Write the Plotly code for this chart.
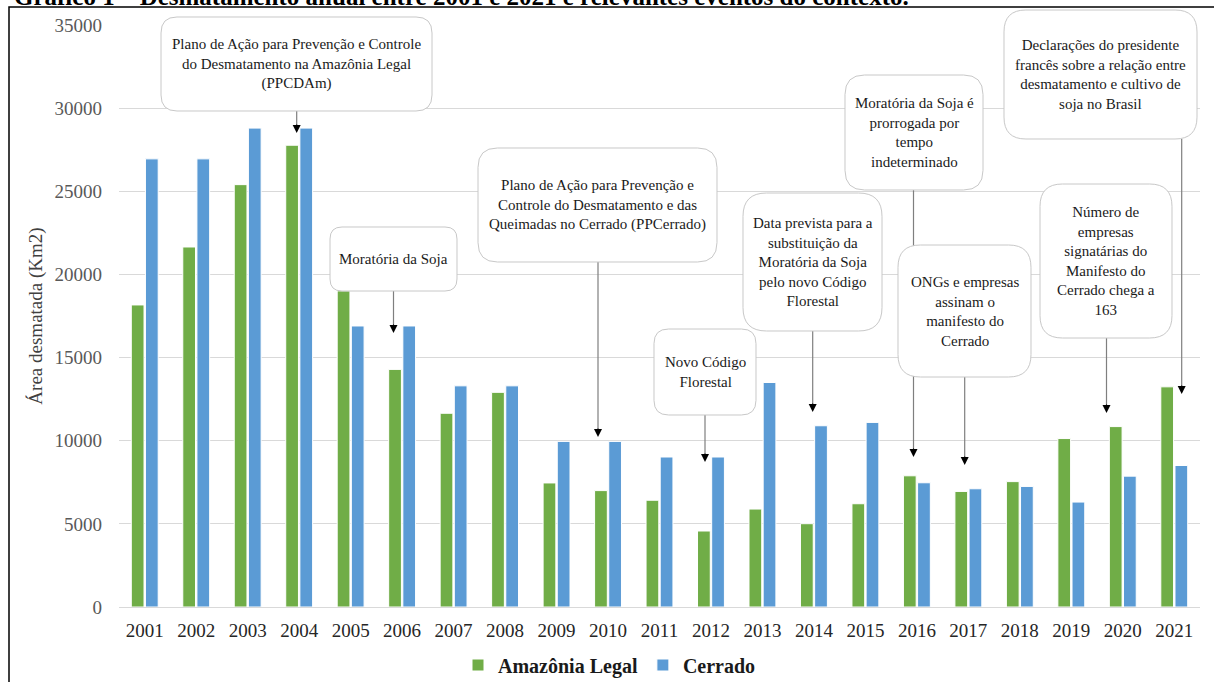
import plotly.graph_objects as go

# ---------------- data ----------------
years = list(range(2001, 2022))
year_labels = [str(y) for y in years]
amazonia = [18165, 21650, 25400, 27770, 19010, 14290, 11650, 12910, 7460, 7000,
            6420, 4570, 5890, 5010, 6210, 7890, 6950, 7540, 10130, 10850, 13240]
cerrado = [26950, 26950, 28800, 28800, 16900, 16900, 13300, 13300, 9960, 9960,
           9020, 9020, 13500, 10900, 11100, 7470, 7110, 7250, 6310, 7870, 8510]
series_names = ["Amazônia Legal", "Cerrado"]
y_ticks = [0, 5000, 10000, 15000, 20000, 25000, 30000, 35000]

event_texts = [
    "Plano de Ação para Prevenção e Controle<br>do Desmatamento na Amazônia Legal<br>(PPCDAm)",
    "Moratória da Soja",
    "Plano de Ação para Prevenção e<br>Controle do Desmatamento e das<br>Queimadas no Cerrado (PPCerrado)",
    "Novo Código<br>Florestal",
    "Data prevista para a<br>substituição da<br>Moratória da Soja<br>pelo novo Código<br>Florestal",
    "Moratória da Soja é<br>prorrogada por<br>tempo<br>indeterminado",
    "ONGs e empresas<br>assinam o<br>manifesto do<br>Cerrado",
    "Declarações do presidente<br>francês sobre a relação entre<br>desmatamento e cultivo de<br>soja no Brasil",
    "Número de<br>empresas<br>signatárias do<br>Manifesto do<br>Cerrado chega a<br>163",
]
title_text = "Gráfico 1 – Desmatamento anual entre 2001 e 2021 e relevantes eventos do contexto."

# ---------------- layout geometry (pixels in the 1214x682 page) ----------------
W, H = 1214, 682
L, R, T, B = 119, 1200, 25, 607

def px(x):
    return (x - L) / (R - L)

def py(y):
    return (B - y) / (B - T)

# callout boxes: (x0, y0, x1, y1) and arrow: (x, y_start, y_tip)
boxes = [
    (161, 17, 432, 111),
    (330, 227, 457, 291),
    (478, 148, 717, 262),
    (654, 329, 756, 415),
    (743, 193, 882, 331),
    (845, 75, 983, 190),
    (898, 245, 1031, 377),
    (1004, 10, 1197, 139),
    (1040, 184, 1172, 338),
]
arrows = [
    (296.7, 111, 133),
    (393.5, 291, 333),
    (598, 262, 437),
    (705, 415, 462),
    (812.7, 331, 412),
    (913.5, 190, 457),
    (964.7, 377, 465),
    (1181.7, 139, 394),
    (1106.5, 338, 413),
]

SERIF = "Liberation Serif, Times New Roman, serif"
GREEN = "#70AD47"
BLUE = "#5B9BD5"

def rrect_path(x0, y0, x1, y1, r):
    def p(x, y):
        return f"{px(x):.6f},{py(y):.6f}"
    return (f"M{p(x0 + r, y0)} L{p(x1 - r, y0)} Q{p(x1, y0)} {p(x1, y0 + r)} "
            f"L{p(x1, y1 - r)} Q{p(x1, y1)} {p(x1 - r, y1)} "
            f"L{p(x0 + r, y1)} Q{p(x0, y1)} {p(x0, y1 - r)} "
            f"L{p(x0, y0 + r)} Q{p(x0, y0)} {p(x0 + r, y0)} Z")

fig = go.Figure()
fig.add_trace(go.Bar(x=years, y=amazonia, name=f"<b>{series_names[0]}</b>",
                     marker=dict(color=GREEN, line=dict(color="white", width=1))))
fig.add_trace(go.Bar(x=years, y=cerrado, name=f"<b>{series_names[1]}</b>",
                     marker=dict(color=BLUE, line=dict(color="white", width=1))))

shapes = []
annotations = []

# arrow lines first (boxes drawn over them)
for (ax, ys, yt) in arrows:
    shapes.append(dict(type="line", xref="paper", yref="paper",
                       x0=px(ax), x1=px(ax), y0=py(ys), y1=py(yt - 6),
                       line=dict(color="#7F7F7F", width=1.2), layer="above"))
    annotations.append(dict(xref="paper", yref="paper", x=px(ax), y=py(yt),
                            ax=0, ay=-10, text="", showarrow=True,
                            arrowhead=2, arrowsize=1.6, arrowwidth=1,
                            arrowcolor="black", standoff=0))

for (x0, y0, x1, y1), txt in zip(boxes, event_texts):
    r = max(12, 0.17 * min(x1 - x0, y1 - y0))
    shapes.append(dict(type="path", xref="paper", yref="paper",
                       path=rrect_path(x0, y0, x1, y1, r),
                       fillcolor="white", line=dict(color="#C8C8C8", width=1),
                       layer="above"))
    annotations.append(dict(xref="paper", yref="paper",
                            x=px((x0 + x1) / 2), y=py((y0 + y1) / 2),
                            xanchor="center", yanchor="middle", text=txt,
                            showarrow=False, align="center",
                            font=dict(family=SERIF, size=15, color="#1a1a1a")))

# outer frame
shapes.append(dict(type="rect", xref="paper", yref="paper",
                   x0=px(9), x1=px(1230), y0=py(7), y1=py(700),
                   line=dict(color="black", width=1.5), fillcolor="rgba(0,0,0,0)",
                   layer="below"))

# caption (cut off by page top, as in the source)
annotations.append(dict(xref="paper", yref="paper", x=px(12), y=py(-3),
                        xanchor="left", yanchor="middle", text=f"<b>{title_text}</b>",
                        showarrow=False,
                        font=dict(family=SERIF, size=25, color="black")))

fig.update_layout(
    width=W, height=H,
    margin=dict(l=L, r=W - R, t=T, b=H - B, autoexpand=False),
    paper_bgcolor="white", plot_bgcolor="white",
    barmode="group", bargap=0.45, bargroupgap=0.1,
    font=dict(family=SERIF),
    shapes=shapes, annotations=annotations,
    showlegend=True,
    legend=dict(orientation="h", x=px(458), xanchor="left", y=py(665), yanchor="middle",
                font=dict(family=SERIF, size=20, color="#1a1a1a"),
                itemclick=False, itemdoubleclick=False),
    xaxis=dict(range=[2000.5, 2021.5], tickvals=years, ticktext=year_labels,
               showgrid=False, zeroline=False, showline=False, ticks="",
               ticklabelstandoff=10,
               tickfont=dict(family=SERIF, size=19, color="#262626")),
    yaxis=dict(range=[0, 35000], tickvals=y_ticks, ticktext=[str(v) for v in y_ticks],
               showgrid=True, gridcolor="#D9D9D9", gridwidth=1,
               zeroline=True, zerolinecolor="#D9D9D9", zerolinewidth=1,
               showline=False, ticks="", ticklabelstandoff=16,
               tickfont=dict(family=SERIF, size=19, color="#595959"),
               title=dict(text="Área desmatada (Km2)", standoff=6,
                          font=dict(family=SERIF, size=19, color="#404040"))),
)

fig.write_html("out.html")
